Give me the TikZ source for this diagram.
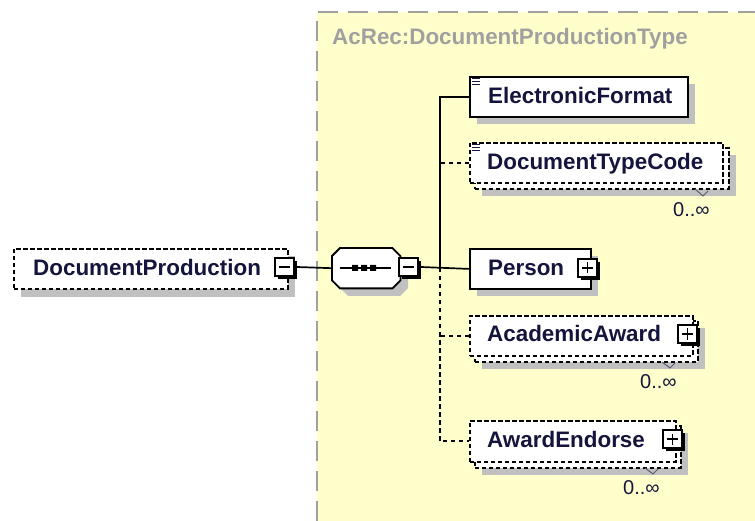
\documentclass[tikz,border=0pt]{standalone}
\usepackage{fontspec}
\setmainfont{Liberation Sans}
\definecolor{bgyellow}{HTML}{FFFFCC}
\definecolor{shadowgray}{HTML}{C0C0C0}
\definecolor{framegray}{HTML}{A0A0A0}
\definecolor{navy}{HTML}{14143C}
\tikzset{
  elbox/.style={draw=black, fill=white, line width=1.8pt, anchor=north west, inner sep=0pt},
  optbox/.style={elbox, line width=1.6pt, dash pattern=on 4.5pt off 2.5pt},
  shade/.style={fill=shadowgray, draw=none},
  lbl/.style={font=\fontsize{22.4}{26}\selectfont\bfseries, text=navy, inner sep=0pt, anchor=base west},
  ttl/.style={font=\fontsize{22.4}{26}\selectfont\bfseries, text=framegray, inner sep=0pt, anchor=base west},
  occ/.style={font=\fontsize{20}{24}\selectfont, text=navy, inner sep=0pt, anchor=base west},
  conn/.style={line width=1.7pt},
  optconn/.style={line width=1.7pt, dash pattern=on 4.5pt off 3.5pt},
  occmark/.style={line width=1pt, draw=navy!70},
  pics/tglminus/.style={code={
    \fill[black] (3,3) rectangle (22,21);
    \draw[fill=white, line width=1.4pt] (0,0) rectangle (19,18);
    \draw[line width=1.4pt] (4,9) -- (15,9);
    \coordinate (-e) at (22,9);
  }},
  pics/tglplus/.style={code={
    \fill[black] (3,3) rectangle (22,21);
    \draw[fill=white, line width=1.4pt] (0,0) rectangle (19,18);
    \draw[line width=1.4pt] (4,9) -- (15,9) (9.5,3.5) -- (9.5,14.5);
  }},
  pics/simpleicon/.style={code={
    \draw[line width=1pt, navy] (0,0) -- (8,0) (0,3) -- (8,3) (0,6) -- (8,6);
  }}
}
\begin{document}
\begin{tikzpicture}[x=1pt, y=-1pt]
\useasboundingbox (0,0) rectangle (755,521);
\fill[white] (0,0) rectangle (755,521);
% complex type region
\fill[bgyellow] (317,12) rectangle (755,521);
\draw[framegray, line width=2pt, dash pattern=on 20pt off 10pt] (317,521) -- (317,12) -- (755,12);
\node[ttl] (title) at (332,45) {AcRec:DocumentProductionType};

% shadows
\fill[shade] (21,256) rectangle (295,297);
\fill[shade] (348,256) -- (400,256) -- (408,264) -- (408,288) -- (400,296) -- (348,296) -- (340,288) -- (340,264) -- cycle;
\fill[shade] (477,84) rectangle (695,124);
\fill[shade] (482,155) rectangle (736,196);
\fill[shade] (477,256) rectangle (598,296);
\fill[shade] (482,328) rectangle (705,369);
\fill[shade] (482,433) rectangle (688,475);

% element boxes
\node[optbox, minimum width=274pt, minimum height=40pt] (dp) at (13,248) {};
\node[inner sep=0pt, minimum width=68pt, minimum height=40pt, anchor=north west] (seq) at (332,248) {};
\draw[line width=1.8pt, fill=white] ([xshift=8pt]seq.north west) -- ([xshift=-8pt]seq.north east) -- ([yshift=-8pt]seq.north east) -- ([yshift=8pt]seq.south east) -- ([xshift=-8pt]seq.south east) -- ([xshift=8pt]seq.south west) -- ([yshift=8pt]seq.south west) -- ([yshift=-8pt]seq.north west) -- cycle;
\draw[line width=1.6pt] (340,268) -- (391,268);
\fill[black] (352,265) rectangle (358,271) (361,265) rectangle (367,271) (370,265) rectangle (376,271);

\node[elbox, minimum width=218pt, minimum height=40pt] (ef) at (469,76) {};
\node[optbox, minimum width=254pt, minimum height=41pt] (dtcb) at (474,147) {};
\node[optbox, minimum width=253pt, minimum height=40pt] (dtc) at (469,142) {};
\node[elbox, minimum width=121pt, minimum height=40pt] (pe) at (469,248) {};
\node[optbox, minimum width=223pt, minimum height=41pt] (aab) at (474,320) {};
\node[optbox, minimum width=223pt, minimum height=40pt] (aa) at (469,315) {};
\node[optbox, minimum width=206pt, minimum height=42pt] (aeb) at (474,425) {};
\node[optbox, minimum width=206pt, minimum height=41pt] (ae) at (469,420) {};

% icons
\pic (efi) at (472,79) {simpleicon};
\pic (dtci) at (472,145) {simpleicon};

% toggles
\pic (dpt) at (275,258) {tglminus};
\pic (seqt) at (399,258) {tglminus};
\pic (pet) at (578,259) {tglplus};
\pic (aat) at (678,325) {tglplus};
\pic (aet) at (663,430) {tglplus};

% connectors
\coordinate (tr) at (440,268);
\draw[conn] (dpt-e) -- (seq.west);
\draw[conn] (seqt-e) -- (pe.west);
\draw[conn] (ef.west) -| (tr);
\draw[optconn] (dtc.west) -- (dtc.west -| tr);
\draw[optconn] (tr) |- (ae.west);
\draw[optconn] (aa.west) -- (aa.west -| tr);

% occurrence marks
\draw[occmark] (695,189) -- (703,196) -- (708,191);
\draw[occmark] (662,362) -- (670,368) -- (675,363);
\draw[occmark] (645,468) -- (653,474) -- (658,469);

% labels
\node[lbl] (dpl) at (33,276) {DocumentProduction};
\node[lbl] (efl) at (488,103.5) {ElectronicFormat};
\node[lbl] (dtcl) at (487,169.5) {DocumentTypeCode};
\node[lbl] (pel) at (488,275.5) {Person};
\node[lbl] (aal) at (487,341.5) {AcademicAward};
\node[lbl] (ael) at (487,447.5) {AwardEndorse};
\node[occ] (dtco) at (673,217) {0..∞};
\node[occ] (aao) at (640,388) {0..∞};
\node[occ] (aeo) at (623,494) {0..∞};
\end{tikzpicture}
\end{document}
